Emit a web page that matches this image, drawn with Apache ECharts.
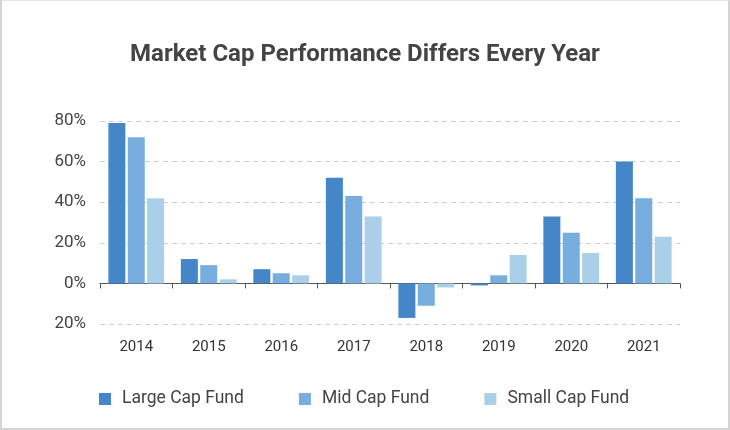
<!DOCTYPE html>
<html>
<head>
<meta charset="utf-8">
<script src="https://cdn.jsdelivr.net/npm/echarts@6/dist/echarts.min.js"></script>
<style>
html,body{margin:0;padding:0;background:#fff;}
#frame{position:absolute;left:0;top:0;width:730px;height:430px;box-sizing:border-box;border:2px solid #d4d4d4;border-top:1px solid #e6e6e6;background:#fff;}
#chart{position:absolute;left:0;top:0;width:730px;height:430px;}
</style>
</head>
<body>
<div id="frame"></div>
<div id="chart"></div>
<script>
const titleText = 'Market Cap Performance Differs Every Year';
const years = ['2014','2015','2016','2017','2018','2019','2020','2021'];
const seriesNames = ['Large Cap Fund','Mid Cap Fund','Small Cap Fund'];
const largeCap = [79, 12, 7, 52, -17, -1, 33, 60];
const midCap = [72, 9, 5, 43, -11, 4, 25, 42];
const smallCap = [42, 2, 4, 33, -2, 14, 15, 23];
const tickValues = [-20, 0, 20, 40, 60, 80];
const tickLabels = ['20%', '0%', '20%', '40%', '60%', '80%'];
const colors = ['#4586c8', '#77aedf', '#a9d0e8'];

const chart = echarts.init(document.getElementById('chart'), null, {renderer:'canvas'});
const dataSets = [largeCap, midCap, smallCap];
chart.setOption({
  backgroundColor: 'transparent',
  animation: false,
  title: {
    text: titleText, left: 'center', top: 38,
    textStyle: {fontFamily: 'Roboto', fontWeight: 'bold', fontSize: 24, color: '#444'}
  },
  legend: {
    bottom: 17, left: 94, itemWidth: 12, itemHeight: 12, itemGap: 55,
    icon: 'rect',
    textStyle: {fontFamily: 'Roboto', fontSize: 17.5, color: '#444', padding: [0,0,0,6]},
    data: seriesNames
  },
  grid: {left: 100, right: 50, top: 121, bottom: 106, containLabel: false},
  xAxis: {
    type: 'category', data: years, boundaryGap: true,
    axisLine: {onZero: true, lineStyle: {color: '#555', width: 1}},
    axisTick: {show: true, length: 5, inside: false, lineStyle: {color: '#555'}},
    axisLabel: {fontFamily: 'Roboto', fontSize: 15, color: '#333', margin: 16}
  },
  yAxis: {
    type: 'value', min: -20, max: 80, interval: 20,
    axisLine: {show: false}, axisTick: {show: false},
    axisLabel: {
      fontFamily: 'Roboto', fontSize: 17, color: '#444', margin: 14,
      formatter: function (v) { const i = tickValues.indexOf(v); return i >= 0 ? tickLabels[i] : ''; }
    },
    splitLine: {lineStyle: {color: '#cfcfcf', type: [5, 4], width: 1}}
  },
  series: dataSets.map((d, i) => ({
    name: seriesNames[i], type: 'bar', data: d, barWidth: 17, barGap: '14%',
    itemStyle: {color: colors[i]}
  }))
});
</script>
</body>
</html>
